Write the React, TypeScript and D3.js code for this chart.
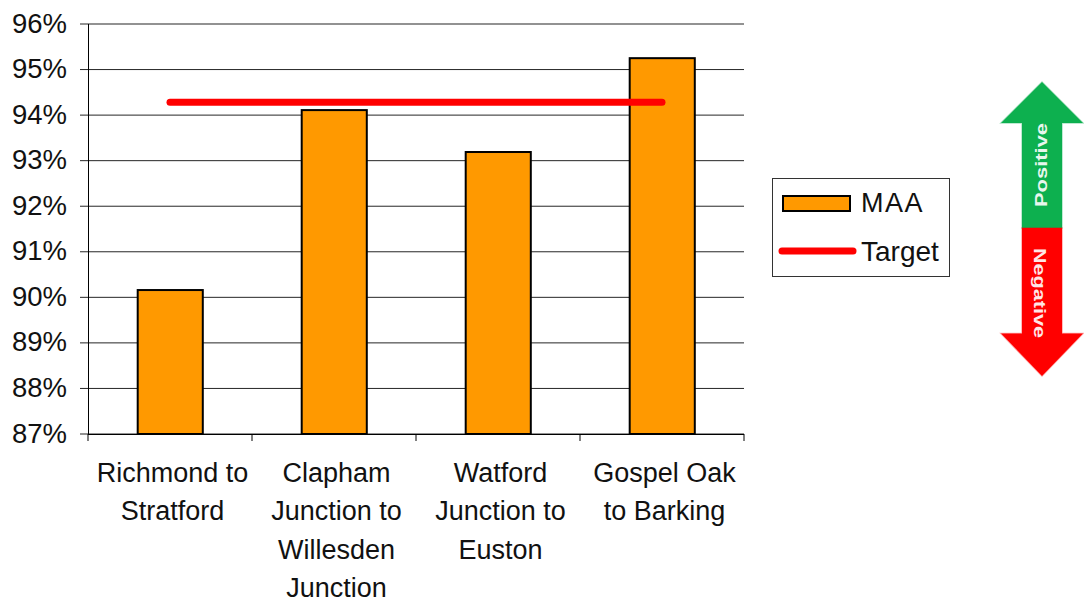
import React from 'react';
import * as d3 from 'd3';

const routes = ['Richmond to Stratford', 'Clapham Junction to Willesden Junction', 'Watford Junction to Euston', 'Gospel Oak to Barking'];
const routeLines = [
  ['Richmond to', 'Stratford'],
  ['Clapham', 'Junction to', 'Willesden', 'Junction'],
  ['Watford', 'Junction to', 'Euston'],
  ['Gospel Oak', 'to Barking'],
];
const maa = [90.16, 94.11, 93.19, 95.25];
const target = [94.28, 94.28, 94.28, 94.28];
const yTicks = [87, 88, 89, 90, 91, 92, 93, 94, 95, 96];

const FONT = '"Liberation Sans", Arial, sans-serif';

const x = d3.scaleBand<string>().domain(routes).range([88, 744]).paddingInner(0.6).paddingOuter(0.3);
const y = d3.scaleLinear().domain([87, 96]).range([434, 24]);

const targetLine = d3
  .line<number>()
  .x((_, i) => x(routes[i])! + x.bandwidth() / 2)
  .y((d) => y(d));

// block arrow, half of it: pointing up or down from the middle line
const arrowPath = (dir: number) => {
  const p = d3.path();
  const cx = 1042;
  const mid = 228;
  const headBase = mid + dir * (dir < 0 ? 105 : 105.5);
  const tip = mid + dir * (dir < 0 ? 146 : 148);
  p.moveTo(cx - 20, mid);
  p.lineTo(cx - 20, headBase);
  p.lineTo(cx - 41, headBase);
  p.lineTo(cx, tip);
  p.lineTo(cx + 41, headBase);
  p.lineTo(cx + 20, headBase);
  p.lineTo(cx + 20, mid);
  p.closePath();
  return p.toString();
};

export default function App() {
  const step = x.step();
  const xEdges = d3.range(routes.length + 1).map((i) => 88 + i * step);
  return (
    <svg width={1084} height={601} style={{ position: 'absolute', left: 0, top: 0 }} fontFamily={FONT}>
      {yTicks.map((t) => (
        <g key={t}>
          <line x1={80} x2={744} y1={y(t)} y2={y(t)} stroke="#000" strokeWidth={1} opacity={0.85} />
          <text x={67} y={y(t) + 8.5} fontSize={27.5} textAnchor="end" fill="#111">
            {t}%
          </text>
        </g>
      ))}
      <line x1={88.5} x2={88.5} y1={24} y2={434} stroke="#000" strokeWidth={1} />
      <line x1={88} x2={744} y1={434.5} y2={434.5} stroke="#000" strokeWidth={1} />
      {xEdges.map((e) => (
        <line key={e} x1={e} x2={e} y1={434} y2={441} stroke="#000" strokeWidth={1} />
      ))}

      {routes.map((r, i) => (
        <rect
          key={r}
          x={x(r)! + 0.5}
          y={y(maa[i])}
          width={x.bandwidth() - 0.5}
          height={y(87) - y(maa[i])}
          fill="#FF9900"
          stroke="#000"
          strokeWidth={2}
        />
      ))}

      <path d={targetLine(target)!} fill="none" stroke="#FF0000" strokeWidth={7} strokeLinecap="round" />

      {routes.map((r, i) => (
        <text key={r} fontSize={27} textAnchor="middle" fill="#111">
          {routeLines[i].map((l, j) => (
            <tspan key={j} x={x(r)! + x.bandwidth() / 2 + 2.5} y={481.5 + j * 38.5}>
              {l}
            </tspan>
          ))}
        </text>
      ))}

      {/* legend */}
      <rect x={772.5} y={178.5} width={177} height={98} fill="#fff" stroke="#333" strokeWidth={1} />
      <rect x={783} y={196} width={67} height={15} fill="#FF9900" stroke="#000" strokeWidth={2} />
      <text x={861} y={212} fontSize={27} fill="#111" letterSpacing={1.5}>
        MAA
      </text>
      <line x1={782} x2={853} y1={251} y2={251} stroke="#FF0000" strokeWidth={7} strokeLinecap="round" />
      <text x={861} y={261} fontSize={28} fill="#111">
        Target
      </text>

      {/* positive / negative arrow */}
      <path d={arrowPath(-1)} fill="#0DB04F" stroke="#0DB04F" strokeOpacity={0.35} strokeWidth={1.5} />
      <path d={arrowPath(1)} fill="#FF0000" stroke="#FF0000" strokeOpacity={0.35} strokeWidth={1.5} />
      <text
        transform="translate(1047,165) rotate(-90)"
        fontSize={17}
        fontWeight="bold"
        textAnchor="middle"
        textLength={84}
        lengthAdjust="spacingAndGlyphs"
        fill="#fff"
        opacity={0.9}
      >
        Positive
      </text>
      <text
        transform="translate(1034,293) rotate(90)"
        fontSize={17}
        fontWeight="bold"
        textAnchor="middle"
        textLength={90}
        lengthAdjust="spacingAndGlyphs"
        fill="#fff"
        opacity={0.9}
      >
        Negative
      </text>
    </svg>
  );
}
